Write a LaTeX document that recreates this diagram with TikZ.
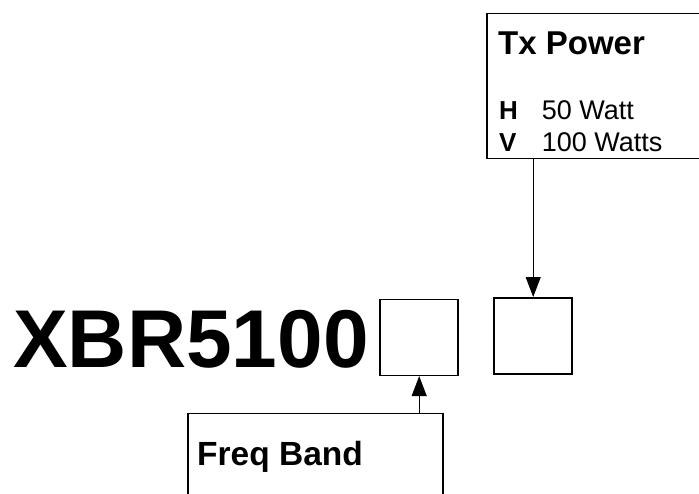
\documentclass[tikz,border=0pt]{standalone}
\usepackage{fontspec}
\setmainfont{Liberation Sans}
\usetikzlibrary{arrows.meta,positioning}

\begin{document}
\begin{tikzpicture}[
  x=1pt,y=-1pt,
  box/.style={draw,line width=1.6pt,inner sep=0pt},
  label/.style={anchor=base west,inner sep=0pt},
  arrow/.style={-{Triangle[length=20pt,width=15pt]},line width=1pt}
]
\useasboundingbox (0,0) rectangle (699,493);
\clip (0,0) rectangle (699,493);
\node[label,font=\fontsize{82}{82}\bfseries\selectfont] (model) at (13,367.3) {XBR5100};
\node[box,minimum width=78pt,minimum height=76pt] (band) at (419.2,337.3) {};
\node[box,minimum width=78pt,minimum height=76pt] (power) at (533.2,335.8) {};
\node[box,minimum width=240pt,minimum height=145pt] (txpow) at (606.7,85.8) {};
\node[box,minimum width=255pt,minimum height=110pt] (freq) at (315.2,468.3) {};
\node[label,font=\fontsize{33}{33}\bfseries\selectfont] (txtitle) at (498,54) {Tx Power};
\node[label,font=\fontsize{26}{26}\bfseries\selectfont] (hkey) at (499,119.3) {H};
\node[label,font=\fontsize{27}{27}\selectfont] (hval) at (541.7,119.3) {50 Watt};
\node[label,font=\fontsize{26}{26}\bfseries\selectfont] (vkey) at (499,151) {V};
\node[label,font=\fontsize{27}{27}\selectfont] (vval) at (541.7,151) {100 Watts};
\node[label,font=\fontsize{33.5}{33.5}\bfseries\selectfont] (freqtitle) at (197,465) {Freq Band};
\draw[arrow] (power.north |- txpow.south) -- (power.north);
\draw[arrow] (band.south |- freq.north) -- (band.south);
\end{tikzpicture}
\end{document}
